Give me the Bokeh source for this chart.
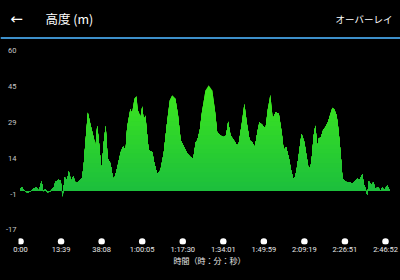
import numpy as np
from bokeh.plotting import figure
from bokeh.layouts import column
from bokeh.models import Range1d, FixedTicker
from bokeh.core.properties import value
from bokeh.embed import file_html
from bokeh.resources import INLINE

# ---- data ----
distance = [0.00, 0.04, 0.08, 0.12, 0.17, 0.25, 0.33, 0.39, 0.45, 0.52, 0.56, 0.62, 0.66, 0.74,
            0.82, 0.86, 0.94, 0.99, 1.04, 1.09, 1.15, 1.19, 1.25, 1.30, 1.36, 1.44, 1.52, 1.56,
            1.60, 1.66, 1.73, 1.81, 1.85, 1.89, 1.93, 1.97, 2.00, 2.05, 2.10, 2.15, 2.22, 2.26,
            2.30, 2.38, 2.47, 2.53, 2.59, 2.63, 2.71, 2.75, 2.81, 2.86, 2.89, 2.96, 3.00, 3.04,
            3.08, 3.12, 3.16, 3.25, 3.30, 3.37, 3.45, 3.53, 3.62, 3.68, 3.74, 3.82, 3.88, 3.95,
            4.03, 4.11, 4.19, 4.26, 4.32, 4.36, 4.42, 4.48, 4.56, 4.64, 4.73, 4.79, 4.85, 4.93,
            5.01, 5.07, 5.12, 5.18, 5.26, 5.34, 5.38, 5.45, 5.52, 5.59, 5.65, 5.71, 5.78, 5.84,
            5.89, 5.96, 6.04, 6.10, 6.16, 6.22, 6.29, 6.37, 6.44, 6.49, 6.55, 6.62, 6.68, 6.74,
            6.80, 6.86, 6.93, 7.00, 7.05, 7.11, 7.17, 7.23, 7.27, 7.32, 7.35, 7.41, 7.46, 7.52,
            7.58, 7.63, 7.69, 7.74, 7.79, 7.82, 7.87, 7.91, 7.94, 7.99, 8.06, 8.12, 8.18, 8.24,
            8.30, 8.37, 8.43, 8.46, 8.51, 8.55, 8.59, 8.65, 8.70, 8.75, 8.81, 8.88, 8.92, 8.97,
            9.04, 9.11]
elevation = [1.3, 1.5, 0.3, 0.0, -0.7, -0.1, 1.2, 1.5, 0.3, 4.2, -0.1, 0.9, -0.6, -0.1,
             1.7, 3.9, 4.9, 4.6, -2.3, 6.0, 4.6, 8.5, 4.2, 6.5, 3.3, 4.2, 5.7, 11.5,
             20.9, 33.7, 28.2, 22.5, 18.9, 28.2, 21.8, 13.9, 8.9, 20.4, 28.2, 13.9, 11.8, 7.5,
             4.6, 9.6, 16.7, 19.2, 17.5, 27.5, 35.4, 33.2, 39.7, 40.7, 34.7, 31.8, 36.4, 30.4,
             32.5, 24.6, 17.5, 16.7, 11.8, 7.5, 8.9, 16.1, 30.4, 38.9, 41.1, 39.7, 33.2, 21.8,
             18.9, 16.1, 14.6, 13.9, 21.0, 21.8, 26.1, 34.7, 43.2, 45.4, 43.2, 35.4, 25.3, 23.9,
             23.2, 23.9, 29.9, 23.9, 21.8, 19.6, 20.4, 28.2, 37.5, 28.2, 21.8, 21.0, 18.9, 25.3,
             29.6, 28.5, 26.8, 35.4, 41.4, 31.1, 33.9, 33.2, 25.3, 17.5, 18.9, 13.9, 8.2, 4.6,
             8.2, 15.3, 24.6, 21.0, 15.3, 8.9, 11.8, 23.9, 28.2, 18.9, 22.5, 23.2, 26.1, 27.5,
             29.6, 32.5, 35.8, 35.0, 32.8, 29.6, 21.0, 12.5, 5.3, 4.6, 3.6, 3.9, 3.2, 4.2,
             5.3, 5.0, 7.5, 3.2, 1.0, -1.8, 4.2, 2.4, 3.9, 1.0, 1.7, 0.3, 1.7, 0.3,
             2.4, 0.3]

x_tick_pos = [0, 1, 2, 3, 4, 5, 6, 7, 8, 9]
x_tick_labels = ["0:00", "13:39", "38:08", "1:00:05", "1:17:30", "1:34:01",
                 "1:49:59", "2:09:19", "2:26:51", "2:46:52"]
y_tick_pos = [-16.7, -1.3, 14.1, 29.5, 44.9, 60.3]
y_tick_labels = ["-17", "-1", "14", "29", "45", "60"]

title_text = "高度 (m)"
overlay_text = "オーバーレイ"
x_axis_title = "時間（時：分：秒）"

# ---- styles ----
BG = "#000000"
CJK = "Noto Sans CJK JP"
TOP_RGB = np.array([62, 232, 30])
BOT_RGB = np.array([28, 190, 62])
DOT_LEVEL = -21.6
BLACK_STYLE = {"background-color": "#000000"}

# ---- header ----
h = figure(width=400, height=40, x_range=Range1d(0, 400), y_range=Range1d(40, 0),
           output_backend="svg", toolbar_location=None, min_border=0,
           x_axis_location=None, y_axis_location=None,
           background_fill_color=BG, border_fill_color=BG, outline_line_color=None)
h.frame_align = False
h.grid.visible = False
h.styles = BLACK_STYLE
h.text(x=[16], y=[18], text=["←"], text_font=value("DejaVu Sans"), text_font_size="15px",
       text_color="white", text_align="center", text_baseline="middle")
h.text(x=[45], y=[18], text=[title_text], text_font=value(CJK), text_font_size="12.5px",
       text_color="white", text_align="left", text_baseline="middle")
h.text(x=[392], y=[18], text=[overlay_text], text_font=value(CJK), text_font_size="9.5px",
       text_color="white", text_align="right", text_baseline="middle")
h.line(x=[0, 400], y=[37.5, 37.5], line_color="#3d8fca", line_width=2)

# ---- main chart ----
p = figure(width=400, height=240, x_range=Range1d(-0.05, 9.37), y_range=Range1d(-22.93, 62.95),
           output_backend="svg", toolbar_location=None,
           min_border_left=18, min_border_right=0, min_border_top=4, min_border_bottom=36,
           background_fill_color=BG, border_fill_color=BG, outline_line_color=None)
p.frame_align = False
p.grid.visible = False
p.styles = BLACK_STYLE

dist = np.array(distance)
elev = np.array(elevation)
levels = np.arange(46, 0, -2)
for L in levels:
    t = np.clip(L / 46.0, 0, 1)
    rgb = (BOT_RGB + (TOP_RGB - BOT_RGB) * t).astype(int)
    col = "#%02x%02x%02x" % tuple(rgb)
    p.varea(x=dist, y1=np.zeros_like(elev), y2=np.minimum(elev, L), fill_color=col)

p.scatter(x=x_tick_pos, y=[DOT_LEVEL] * len(x_tick_pos), size=6.5, fill_color="white",
          line_color=None)

xa = p.xaxis[0]
xa.ticker = FixedTicker(ticks=x_tick_pos)
xa.major_label_overrides = {t: l for t, l in zip(x_tick_pos, x_tick_labels)}
xa.axis_line_color = None
xa.major_tick_line_color = None
xa.minor_tick_line_color = None
xa.major_tick_out = 0
xa.major_tick_in = 0
xa.minor_tick_out = 0
xa.major_label_standoff = 0
xa.major_label_text_color = "#e8e8e8"
xa.major_label_text_font = "Roboto"
xa.major_label_text_font_size = "7.5px"
xa.axis_label = x_axis_title
xa.axis_label_text_font = CJK
xa.axis_label_text_font_style = "normal"
xa.axis_label_text_font_size = "8px"
xa.axis_label_text_color = "#e8e8e8"
xa.axis_label_standoff = -2

ya = p.yaxis[0]
ya.ticker = FixedTicker(ticks=y_tick_pos)
ya.major_label_overrides = {t: l for t, l in zip(y_tick_pos, y_tick_labels)}
ya.axis_line_color = None
ya.major_tick_line_color = None
ya.minor_tick_line_color = None
ya.major_tick_out = 0
ya.major_tick_in = 0
ya.minor_tick_out = 0
ya.major_label_standoff = 2
ya.major_label_text_color = "#c8c8c8"
ya.major_label_text_font = "Roboto"
ya.major_label_text_font_size = "7.5px"

layout = column(h, p, spacing=0)
layout.styles = BLACK_STYLE
open("out.html", "w").write(file_html(layout, INLINE))
